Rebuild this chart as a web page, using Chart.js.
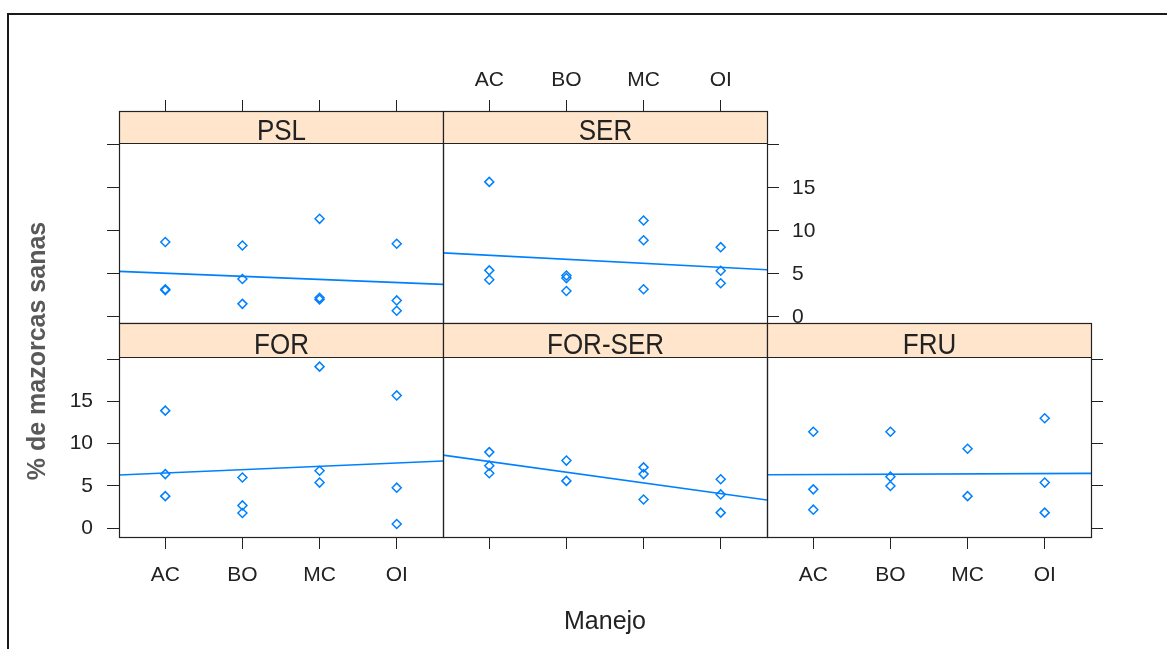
<!DOCTYPE html>
<html>
<head>
<meta charset="utf-8">
<script src="https://cdn.jsdelivr.net/npm/chart.js@4.4.1/dist/chart.umd.min.js"></script>
<style>
  html, body { margin: 0; padding: 0; background: #fff; }
  #wrap { position: relative; width: 1167px; height: 649px; overflow: hidden; font-family: "Liberation Sans", Arial, sans-serif; }
  #wrap canvas { position: absolute; left: 0; top: 0; }
  #frame { position: absolute; left: 7px; top: 13px; width: 1300px; height: 800px; border-top: 2px solid #1a1a1a; border-left: 2px solid #1a1a1a; }
  #xlab { position: absolute; left: 505px; top: 608px; width: 200px; text-align: center; font-size: 25px; line-height: 25px; color: #222; }
  #ylab { position: absolute; left: -114px; top: 338px; width: 300px; text-align: center; font-size: 25px; line-height: 26px; font-weight: bold; color: #595959; white-space: nowrap; transform: rotate(-90deg); }
</style>
</head>
<body>
<div id="wrap">
  <div id="frame"></div>
  <canvas id="psl" width="1167" height="649"></canvas>
  <canvas id="ser" width="1167" height="649"></canvas>
  <canvas id="for" width="1167" height="649"></canvas>
  <canvas id="forser" width="1167" height="649"></canvas>
  <canvas id="fru" width="1167" height="649"></canvas>
  <div id="xlab">Manejo</div>
  <div id="ylab">% de mazorcas sanas</div>
</div>
<script>
const categories = ["AC", "BO", "MC", "OI"];
const xTicks = [1, 2, 3, 4];
const xRange = [0.4, 4.6];
const yTicks = [0, 5, 10, 15, 20];
const yTickLabels = ["0", "5", "10", "15", ""];

// values per Manejo level, in the order of categories
const psl = [[8.7, 3.1, 3.2], [8.3, 4.4, 1.5], [11.4, 2.0, 2.2], [8.5, 1.9, 0.7]];
const ser = [[15.7, 5.4, 4.3], [4.8, 4.5, 3.0], [11.2, 8.9, 3.2], [8.1, 5.35, 3.9]];
const forr = [[13.9, 6.4, 3.8], [6.0, 2.7, 1.8], [19.1, 6.8, 5.4], [15.7, 4.8, 0.5]];
const forSer = [[9.0, 7.4, 6.5], [8.0, 5.6], [7.2, 6.4, 3.4], [5.8, 4.0, 1.85]];
const fru = [[11.4, 4.6, 2.2], [11.4, 6.1, 5.0], [9.4, 3.8], [13.0, 5.4, 1.85]];

// regression line, value at each end of xRange
const pslFit = [5.28, 3.77];
const serFit = [7.44, 5.47];
const forFit = [6.29, 7.95];
const forSerFit = [8.65, 3.34];
const fruFit = [6.33, 6.49];

const W = 1167, H = 649;
const cols = [119, 443, 767, 1091];
const rows = [
    { top: 143, bottom: 323, strip: 32, min: -0.73, max: 20.23 },
    { top: 357, bottom: 537, strip: 34, min: -1.03, max: 20.24 }
];
const blue = "#0080ff";
const ink = "#222";

Chart.defaults.font.family = "'Liberation Sans', Arial, sans-serif";

const toPoints = groups => groups.flatMap((vals, i) => vals.map(v => ({ x: xTicks[i], y: v })));
const fitLine = fit => fit.map((v, i) => ({ x: xRange[i], y: v }));

const latticePlugin = {
    id: "lattice",
    afterDraw(chart, args, opts) {
        const { ctx, chartArea: a } = chart;
        const l = Math.round(a.left) + 0.5, r = Math.round(a.right) + 0.5;
        const t = Math.round(a.top) + 0.5, b = Math.round(a.bottom) + 0.5;
        const st = t - opts.strip;
        ctx.save();
        ctx.fillStyle = "#ffe5cc";
        ctx.fillRect(l, st, r - l, opts.strip);
        ctx.strokeStyle = ink;
        ctx.lineWidth = 1.2;
        ctx.strokeRect(l, st, r - l, b - st);
        ctx.beginPath();
        ctx.moveTo(l, t);
        ctx.lineTo(r, t);
        ctx.stroke();
        // strip label, a little taller than wide like the original
        ctx.fillStyle = ink;
        ctx.font = "26px 'Liberation Sans', Arial, sans-serif";
        ctx.textAlign = "center";
        ctx.textBaseline = "alphabetic";
        ctx.translate((l + r) / 2, t - 3.5);
        ctx.scale(1, 1.1);
        ctx.fillText(opts.name, 0, 0);
        ctx.restore();
    }
};

function makePanel(p) {
    const row = rows[p.row];
    const L = cols[p.col], R = cols[p.col + 1];
    const tlX = p.x === "top" ? 43 : 12;
    const tlY = 12;
    // axis boxes are made wide enough to hold their labels
    const boxX = p.x === "top" ? 100 : 70;
    const boxY = 60;
    const padding = {
        left: L - (p.y === "left" ? boxY : 0),
        right: W - R - (p.y === "right" ? boxY : 0),
        top: row.top - (p.x === "top" ? boxX : 0),
        bottom: H - row.bottom - (p.x === "bottom" ? boxX : 0)
    };

    new Chart(document.getElementById(p.id), {
        type: "scatter",
        data: {
            datasets: [{
                data: toPoints(p.data),
                pointStyle: "rectRot",
                pointRadius: 4.5,
                pointBorderWidth: 1.5,
                pointBorderColor: blue,
                pointBackgroundColor: "rgba(0,0,0,0)",
                borderColor: blue,
                backgroundColor: "rgba(0,0,0,0)"
            }, {
                type: "line",
                data: fitLine(p.fit),
                borderColor: blue,
                borderWidth: 1.6,
                pointRadius: 0,
                fill: false
            }]
        },
        options: {
            responsive: false,
            animation: false,
            devicePixelRatio: 1,
            events: [],
            layout: { padding, autoPadding: false },
            plugins: {
                legend: { display: false },
                tooltip: { enabled: false },
                lattice: { name: p.name, strip: row.strip }
            },
            scales: {
                x: {
                    type: "linear",
                    position: p.x,
                    min: xRange[0],
                    max: xRange[1],
                    afterBuildTicks: s => { s.ticks = xTicks.map(v => ({ value: v })); },
                    afterFit: s => { s.height = boxX; },
                    grid: { drawOnChartArea: false, tickLength: tlX, tickColor: ink, tickWidth: 1 },
                    border: { display: false },
                    ticks: {
                        display: p.xLabels,
                        padding: p.x === "top" ? 7 : 14,
                        color: ink,
                        font: { size: 21 },
                        maxRotation: 0,
                        autoSkip: false,
                        callback: (v, i) => categories[i]
                    }
                },
                y: {
                    type: "linear",
                    display: !!p.y,
                    position: p.y || "left",
                    min: row.min,
                    max: row.max,
                    afterBuildTicks: s => { s.ticks = yTicks.map(v => ({ value: v })); },
                    afterFit: s => { if (p.y) s.width = boxY; },
                    grid: { drawOnChartArea: false, tickLength: tlY, tickColor: ink, tickWidth: 1 },
                    border: { display: false },
                    ticks: {
                        display: p.yLabels,
                        padding: p.y === "right" ? 13 : 14,
                        color: ink,
                        font: { size: 21 },
                        autoSkip: false,
                        callback: (v, i) => yTickLabels[i]
                    }
                }
            }
        },
        plugins: [latticePlugin]
    });
}

[
    { id: "psl", name: "PSL", data: psl, fit: pslFit, row: 0, col: 0, x: "top", xLabels: false, y: "left", yLabels: false },
    { id: "ser", name: "SER", data: ser, fit: serFit, row: 0, col: 1, x: "top", xLabels: true, y: "right", yLabels: true },
    { id: "for", name: "FOR", data: forr, fit: forFit, row: 1, col: 0, x: "bottom", xLabels: true, y: "left", yLabels: true },
    { id: "forser", name: "FOR-SER", data: forSer, fit: forSerFit, row: 1, col: 1, x: "bottom", xLabels: false, y: null, yLabels: false },
    { id: "fru", name: "FRU", data: fru, fit: fruFit, row: 1, col: 2, x: "bottom", xLabels: true, y: "right", yLabels: false }
].forEach(makePanel);
</script>
</body>
</html>
